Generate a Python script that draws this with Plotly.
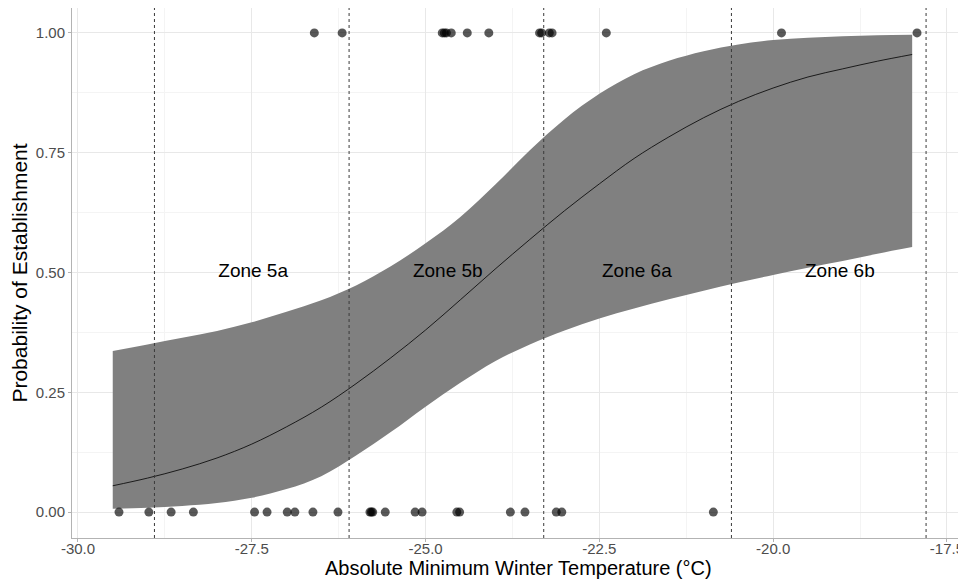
import plotly.graph_objects as go

# Fitted curve and confidence band
temp_grid = [-29.5, -29.0, -28.5, -28.0, -27.5, -27.0, -26.5, -26.0, -25.5, -25.0, -24.5, -24.0,
             -23.5, -23.0, -22.5, -22.0, -21.5, -21.0, -20.5, -20.0, -19.5, -19.0, -18.5, -18.0]
fit_prob = [0.055, 0.071, 0.090, 0.113, 0.142, 0.178, 0.219, 0.268, 0.322, 0.380, 0.443, 0.507,
            0.569, 0.629, 0.685, 0.738, 0.783, 0.823, 0.857, 0.885, 0.908, 0.925, 0.941, 0.955]
upper_prob = [0.336, 0.350, 0.364, 0.378, 0.396, 0.418, 0.442, 0.473, 0.513, 0.561, 0.616, 0.683,
              0.755, 0.820, 0.873, 0.914, 0.942, 0.962, 0.976, 0.985, 0.990, 0.993, 0.995, 0.996]
lower_prob = [0.007, 0.009, 0.013, 0.019, 0.030, 0.048, 0.075, 0.118, 0.167, 0.220, 0.270, 0.315,
              0.350, 0.379, 0.404, 0.425, 0.444, 0.462, 0.479, 0.495, 0.510, 0.524, 0.539, 0.553]

# Observations: established (1) and not established (0)
est_temps = [-26.60, -26.20, -24.76, -24.73, -24.70, -24.63, -24.40, -24.09,
             -23.36, -23.33, -23.22, -23.18, -22.40, -19.88, -17.93]
not_est_temps = [-29.41, -28.98, -28.66, -28.34, -27.46, -27.28, -26.99, -26.88, -26.62, -26.26,
                 -25.80, -25.78, -25.76, -25.58, -25.15, -25.05, -24.55, -24.51,
                 -23.78, -23.57, -23.12, -23.04, -20.86]

# Zone boundaries and labels
zone_bounds = [-28.9, -26.1, -23.3, -20.6, -17.8]
zone_labels = ["Zone 5a", "Zone 5b", "Zone 6a", "Zone 6b"]
zone_label_x = [-27.48, -24.68, -21.96, -19.04]
zone_label_y = 0.5

x_ticks = [-30.0, -27.5, -25.0, -22.5, -20.0, -17.5]
x_tick_text = ["-30.0", "-27.5", "-25.0", "-22.5", "-20.0", "-17.5"]
y_ticks = [0.0, 0.25, 0.5, 0.75, 1.0]
y_tick_text = ["0.00", "0.25", "0.50", "0.75", "1.00"]
x_title = "Absolute Minimum Winter Temperature (°C)"
y_title = "Probability of Establishment"

FONT = "Liberation Sans, Arial, sans-serif"

fig = go.Figure()

fig.add_trace(go.Scatter(x=temp_grid, y=lower_prob, mode="lines", line=dict(width=0, color="#808080", shape="spline"),
                         showlegend=False, hoverinfo="skip"))
fig.add_trace(go.Scatter(x=temp_grid, y=upper_prob, mode="lines", line=dict(width=0, color="#808080", shape="spline"),
                         fill="tonexty", fillcolor="#808080", showlegend=False, hoverinfo="skip"))
fig.add_trace(go.Scatter(x=temp_grid, y=fit_prob, mode="lines", line=dict(width=0.8, color="#000000", shape="spline"),
                         showlegend=False))

for xb in zone_bounds:
    fig.add_shape(type="line", x0=xb, x1=xb, y0=0, y1=1, yref="paper", xref="x",
                  line=dict(color="#3a3a3a", width=1, dash="3px,3px"), layer="above")

fig.add_trace(go.Scatter(x=est_temps, y=[1] * len(est_temps), mode="markers",
                         marker=dict(size=9, color="rgba(0,0,0,0.65)", line=dict(width=0)),
                         showlegend=False))
fig.add_trace(go.Scatter(x=not_est_temps, y=[0] * len(not_est_temps), mode="markers",
                         marker=dict(size=9, color="rgba(0,0,0,0.65)", line=dict(width=0)),
                         showlegend=False))

fig.add_trace(go.Scatter(x=zone_label_x, y=[zone_label_y] * len(zone_labels), mode="text",
                         text=zone_labels, textposition="middle center",
                         textfont=dict(family=FONT, size=19, color="#000000"),
                         showlegend=False, hoverinfo="skip"))

# x-axis title placed just below the tick labels
fig.add_annotation(text=x_title, xref="paper", yref="paper", x=0.5, y=-0.056,
                   xanchor="center", yanchor="middle", showarrow=False,
                   font=dict(size=20, color="#000000", family=FONT))

# The page body adds an 8px offset; the figure is sized so the panel lands where the reference has it.
fig.update_layout(
    width=958, height=571,
    margin=dict(l=64, r=1, t=0, b=41, autoexpand=False),
    plot_bgcolor="white", paper_bgcolor="white",
    font=dict(family=FONT),
    xaxis=dict(
        range=[-30.086, -17.24], tickvals=x_ticks, ticktext=x_tick_text,
        showgrid=True, gridcolor="#e8e8e8", gridwidth=1,
        minor=dict(tickvals=[-28.75, -26.25, -23.75, -21.25, -18.75], showgrid=True,
                   gridcolor="#f4f4f4", gridwidth=0.6, ticks=""),
        showline=True, linecolor="#b3b3b3", linewidth=1, mirror=True,
        ticks="outside", ticklen=3, tickcolor="#b3b3b3", ticklabelstandoff=-6,
        tickfont=dict(size=15, color="#4d4d4d", family=FONT),
        zeroline=False, automargin=False,
    ),
    yaxis=dict(
        range=[-0.054, 1.052], tickvals=y_ticks, ticktext=y_tick_text,
        showgrid=True, gridcolor="#e8e8e8", gridwidth=1,
        minor=dict(tickvals=[0.125, 0.375, 0.625, 0.875], showgrid=True,
                   gridcolor="#f4f4f4", gridwidth=0.6, ticks=""),
        showline=True, linecolor="#b3b3b3", linewidth=1, mirror=True,
        ticks="outside", ticklen=3, tickcolor="#b3b3b3",
        tickfont=dict(size=15, color="#4d4d4d", family=FONT),
        title=dict(text=y_title, font=dict(size=21, color="#000000", family=FONT),
                   standoff=4),
        zeroline=False, automargin=False,
    ),
)

fig.write_html("out.html")
